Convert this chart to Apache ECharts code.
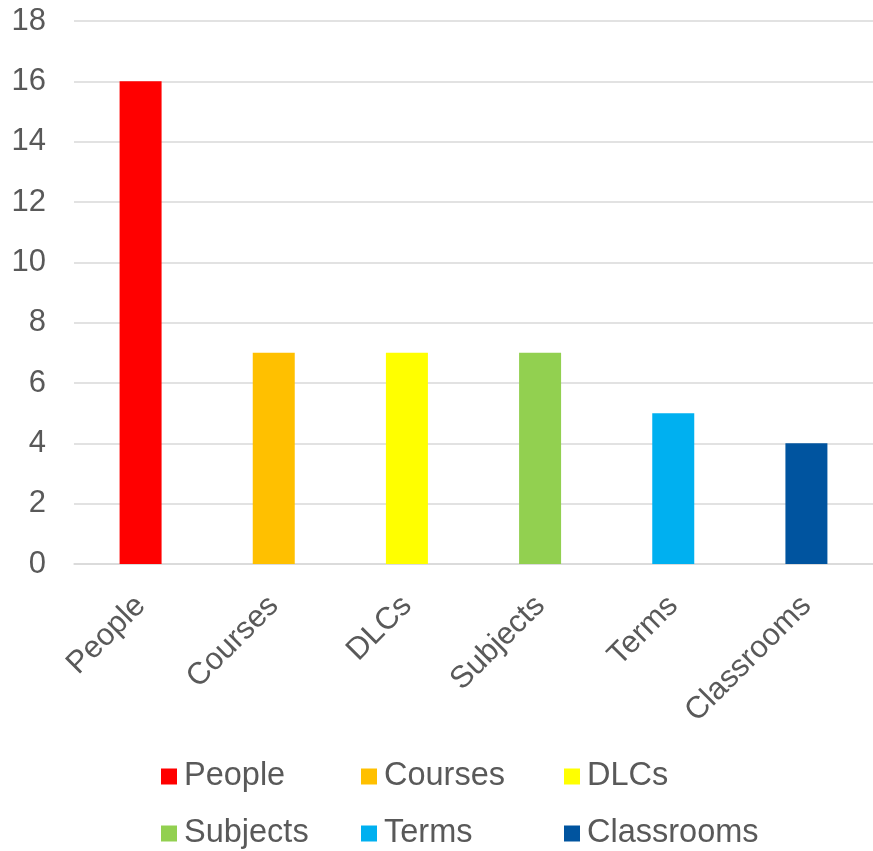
<!DOCTYPE html>
<html>
<head>
<meta charset="utf-8">
<script src="https://cdn.jsdelivr.net/npm/echarts@6/dist/echarts.min.js"></script>
<style>
  html, body { margin: 0; padding: 0; background: #fff; }
  #chart { width: 873px; height: 851px; }
</style>
</head>
<body>
<div id="chart"></div>
<script>
// Record counts per entity type
const categories = ['People', 'Courses', 'DLCs', 'Subjects', 'Terms', 'Classrooms'];
const counts = [16, 7, 7, 7, 5, 4];
const colors = ['#FF0000', '#FFC000', '#FFFF00', '#92D050', '#00B0F0', '#00549F'];
const yTicks = { min: 0, max: 18, step: 2 };

const textColor = '#595959';
const fontFamily = '"Liberation Sans", Arial, sans-serif';

// One series per category so each gets its own legend entry; stacking keeps bars centred
const series = categories.map((name, i) => ({
  name: name,
  type: 'bar',
  stack: 'all',
  barWidth: 42,
  itemStyle: { color: colors[i] },
  data: categories.map((_, j) => (j === i ? counts[i] : '-'))
}));

// Legend laid out as three columns of two entries
const columns = [[0, 3], [1, 4], [2, 5]];
const columnLeft = [161, 361, 564];
const legends = columns.map((idx, c) => ({
  orient: 'vertical',
  left: columnLeft[c],
  top: 760,
  height: 91,
  padding: 0,
  itemWidth: 16,
  itemHeight: 16,
  itemGap: 24,
  icon: 'rect',
  data: idx.map(i => categories[i]),
  textStyle: { color: textColor, fontSize: 32.5, fontFamily: fontFamily, lineHeight: 32, padding: [0, 0, 0, 2] }
}));

const chart = echarts.init(document.getElementById('chart'));
chart.setOption({
  animation: false,
  backgroundColor: '#fff',
  grid: { left: 74, top: 21, width: 802, bottom: 287, containLabel: false },
  legend: legends,
  xAxis: {
    type: 'category',
    data: categories,
    axisLine: { lineStyle: { color: '#D9D9D9', width: 1.5 } },
    axisTick: { show: false },
    axisLabel: {
      rotate: 45,
      margin: 37,
      color: textColor,
      fontSize: 31,
      fontFamily: fontFamily,
      interval: 0
    }
  },
  yAxis: {
    type: 'value',
    min: yTicks.min,
    max: yTicks.max,
    interval: yTicks.step,
    axisLine: { show: false },
    axisTick: { show: false },
    splitLine: { lineStyle: { color: '#D9D9D9', width: 1.5 } },
    axisLabel: {
      margin: 28,
      color: textColor,
      fontSize: 31,
      fontFamily: fontFamily
    }
  },
  series: series
});
</script>
</body>
</html>
